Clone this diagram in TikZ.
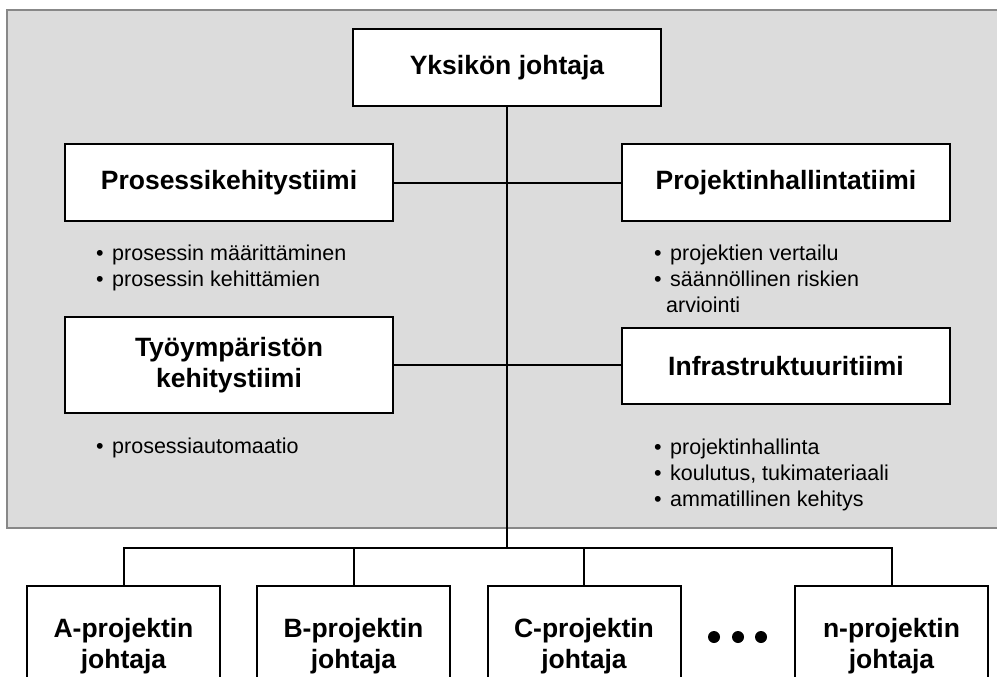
\documentclass[tikz,border=0pt]{standalone}
\usepackage{fontspec}
\setmainfont{Liberation Sans}
\begin{document}
\begin{tikzpicture}[x=1pt,y=-1pt,
  unitbox/.style={draw=black, line width=2pt, fill=white, align=center,
    font=\fontsize{26.5}{31}\selectfont\bfseries, inner sep=0pt},
  teambox/.style={unitbox, minimum width=328pt},
  projbox/.style={unitbox, minimum width=193pt, minimum height=120pt},
  link/.style={draw=black, line width=2pt},
  tasks/.style={anchor=north west, align=left, inner sep=0pt,
    font=\fontsize{21.5}{26}\selectfont},
  dot/.style={circle, fill=black, inner sep=0pt, minimum size=12pt}]
\newcommand{\bul}{\makebox[16pt][l]{•}}
\useasboundingbox (0,0) rectangle (997,677);
\clip (0,0) rectangle (997,677);

% shaded area holding the unit management and the teams
\fill[fill={rgb,255:red,220;green,220;blue,220}, draw={rgb,255:red,136;green,136;blue,136}, line width=2pt]
  (7,10) rectangle (1010,528);

% boxes
\node[unitbox, minimum width=308pt, minimum height=77pt] (yks) at (507,67.5) {Yksikön johtaja};
\node[teambox, minimum height=77pt] (proc) at (229,182.5) {Prosessikehitystiimi};
\node[teambox, minimum height=77pt] (proj) at (786,182.5) {Projektinhallintatiimi};
\node[teambox, minimum height=96pt] (tyo) at (229,365) {Työympäristön\\kehitystiimi};
\node[teambox, minimum height=76pt] (infra) at (786,366) {Infrastruktuuritiimi};

\node[projbox] (pa) at (123.5,646) {A-projektin\\johtaja};
\node[projbox] (pb) at (353.5,646) {B-projektin\\johtaja};
\node[projbox] (pc) at (584,646) {C-projektin\\johtaja};
\node[projbox] (pn) at (891.5,646) {n-projektin\\johtaja};

\node[dot] (d1) at (714,637) {};
\node[dot] (d2) at (738,637) {};
\node[dot] (d3) at (761,637) {};

% connectors
\coordinate (bus) at (507,548);
\path[link] (yks.south) -- (bus);
\path[link] (proc.east) -- (proj.west);
\path[link] (tyo.east) -- (tyo.east -| infra.west);
\path[link] (pa.north) |- (bus) -| (pn.north);
\path[link] (pb.north) -- (pb.north |- bus);
\path[link] (pc.north) -- (pc.north |- bus);

% team tasks
\node[tasks] (t1) at (96,245) {\bul prosessin määrittäminen\\\bul prosessin kehittämien};
\node[tasks] (t2) at (654,245) {\bul projektien vertailu\\\bul säännöllinen riskien\\\hspace{12pt}arviointi};
\node[tasks] (t3) at (96,438) {\bul prosessiautomaatio};
\node[tasks] (t4) at (654,439) {\bul projektinhallinta\\\bul koulutus, tukimateriaali\\\bul ammatillinen kehitys};
\end{tikzpicture}
\end{document}
